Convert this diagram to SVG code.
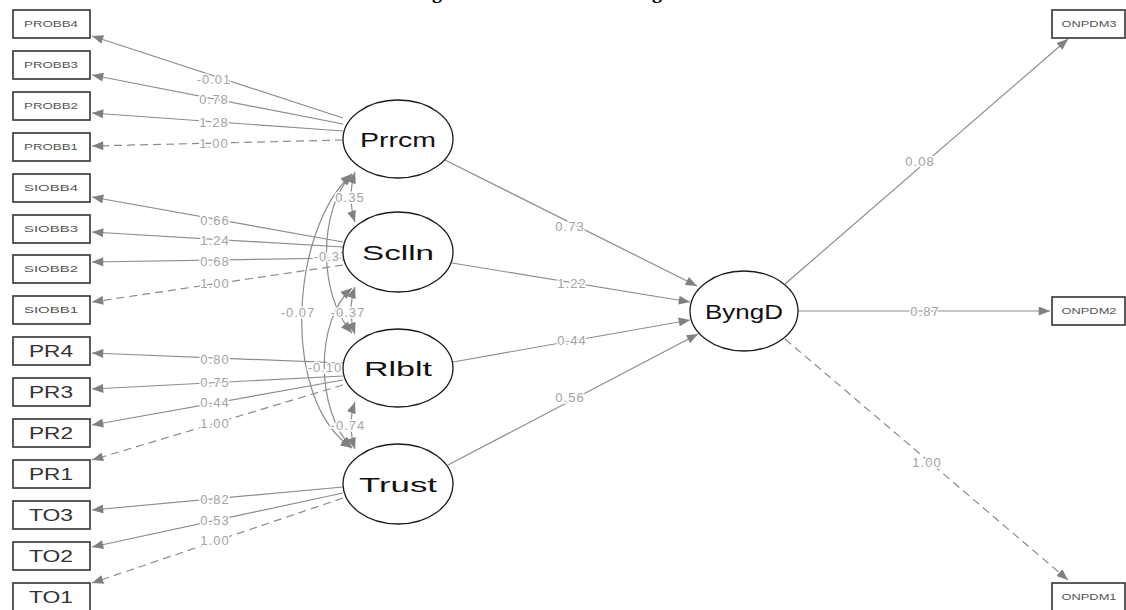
<svg xmlns="http://www.w3.org/2000/svg" width="1126" height="610" viewBox="0 0 1126 610">
<style>
.box{fill:#fff;stroke:#333;stroke-width:1.6}
.lat{fill:#fff;stroke:#1a1a1a;stroke-width:1.3}
.sl{font-family:"Liberation Sans",Arial,sans-serif;font-size:9px;fill:#555;text-anchor:middle;dominant-baseline:central}
.bl{font-family:"Liberation Sans",Arial,sans-serif;font-size:16px;fill:#333;text-anchor:middle;dominant-baseline:central}
.ll{font-family:"Liberation Sans",Arial,sans-serif;font-size:21px;fill:#111;text-anchor:middle;dominant-baseline:central}
.e{stroke:#8c8c8c;stroke-width:1.2;fill:none;marker-end:url(#ah)}
.d{stroke-dasharray:8,5}
.c{stroke:#8c8c8c;stroke-width:1.2;fill:none;marker-start:url(#ah);marker-end:url(#ah)}
.el{font-family:"Liberation Sans",Arial,sans-serif;font-size:13px;fill:#a3a3a3;text-anchor:middle;dominant-baseline:central;letter-spacing:1px;stroke:#fff;stroke-width:3px;paint-order:stroke}
.t{font-family:"Liberation Serif","Times New Roman",serif;font-size:20px;font-weight:bold;fill:#000}
</style>
<defs>
<marker id="ah" viewBox="0 0 10 8" refX="10" refY="4" markerWidth="12" markerHeight="9" markerUnits="userSpaceOnUse" orient="auto-start-reverse">
<path d="M0,0 L10,4 L0,8 z" fill="#808080"/>
</marker>
</defs>
<rect width="1126" height="610" fill="#fff"/>
<text class="t" x="432" y="-2">g</text>
<text class="t" x="652" y="-2">g</text>

<g id="connectors">
<line class="e" x1="343" y1="118" x2="92" y2="36"/>
<line class="e" x1="343" y1="124" x2="92" y2="75"/>
<line class="e" x1="343" y1="131" x2="92" y2="113"/>
<line class="e d" x1="343" y1="140" x2="92" y2="146"/>
<line class="e" x1="343" y1="242" x2="92" y2="197"/>
<line class="e" x1="343" y1="247" x2="92" y2="232"/>
<line class="e" x1="343" y1="258" x2="92" y2="262"/>
<line class="e d" x1="343" y1="265" x2="92" y2="302"/>
<line class="e" x1="343" y1="363" x2="92" y2="353"/>
<line class="e" x1="343" y1="376" x2="92" y2="389"/>
<line class="e" x1="343" y1="380" x2="92" y2="425"/>
<line class="e d" x1="343" y1="385" x2="92" y2="460"/>
<line class="e" x1="343" y1="487" x2="92" y2="510"/>
<line class="e" x1="343" y1="493" x2="92" y2="547"/>
<line class="e d" x1="343" y1="498" x2="92" y2="583"/>
<line class="e" x1="445" y1="160" x2="697" y2="286"/>
<line class="e" x1="452" y1="263" x2="690" y2="302"/>
<line class="e" x1="453" y1="362" x2="690" y2="320"/>
<line class="e" x1="448" y1="465" x2="698" y2="334"/>
<line class="e" x1="785" y1="284" x2="1068" y2="39"/>
<line class="e" x1="798" y1="311" x2="1050" y2="311"/>
<line class="e d" x1="785" y1="339" x2="1068" y2="580"/>
<path class="c" d="M355,172 Q347,197 355,222"/>
<path class="c" d="M355,287 Q347,311 355,334"/>
<path class="c" d="M355,402 Q347,425 355,449"/>
<path class="c" d="M352,174 C318,210 318,295 352,333"/>
<path class="c" d="M352,174 C290,230 280,400 352,448"/>
<path class="c" d="M352,288 C315,320 315,410 352,448"/>
<text class="el" x="214" y="79">-0.01</text>
<text class="el" x="214" y="99">0.78</text>
<text class="el" x="214" y="122">1.28</text>
<text class="el" x="214" y="143">1.00</text>
<text class="el" x="215" y="220">0.66</text>
<text class="el" x="215" y="240">1.24</text>
<text class="el" x="215" y="261">0.68</text>
<text class="el" x="215" y="283">1.00</text>
<text class="el" x="215" y="359">0.80</text>
<text class="el" x="215" y="382">0.75</text>
<text class="el" x="215" y="402">0.44</text>
<text class="el" x="215" y="423">1.00</text>
<text class="el" x="215" y="499">0.82</text>
<text class="el" x="215" y="520">0.53</text>
<text class="el" x="215" y="540">1.00</text>
<text class="el" x="350" y="197">0.35</text>
<text class="el" x="331" y="256">-0.37</text>
<text class="el" x="298" y="312">-0.07</text>
<text class="el" x="348" y="312">-0.37</text>
<text class="el" x="325" y="367">-0.10</text>
<text class="el" x="348" y="425">-0.74</text>
<text class="el" x="570" y="226">0.73</text>
<text class="el" x="572" y="283">1.22</text>
<text class="el" x="572" y="340">0.44</text>
<text class="el" x="570" y="397">0.56</text>
<text class="el" x="920" y="161">0.08</text>
<text class="el" x="925" y="311">0.87</text>
<text class="el" x="927" y="462">1.00</text>
</g>

<g id="PROBB4"><rect class="box" x="13" y="10" width="77" height="28"/><text class="sl" x="51" y="24" textLength="54" lengthAdjust="spacingAndGlyphs">PROBB4</text></g>
<g id="PROBB3"><rect class="box" x="13" y="51" width="77" height="28"/><text class="sl" x="51" y="65" textLength="54" lengthAdjust="spacingAndGlyphs">PROBB3</text></g>
<g id="PROBB2"><rect class="box" x="13" y="92" width="77" height="28"/><text class="sl" x="51" y="106" textLength="54" lengthAdjust="spacingAndGlyphs">PROBB2</text></g>
<g id="PROBB1"><rect class="box" x="13" y="133" width="77" height="28"/><text class="sl" x="51" y="147" textLength="54" lengthAdjust="spacingAndGlyphs">PROBB1</text></g>
<g id="SIOBB4"><rect class="box" x="13" y="174" width="77" height="28"/><text class="sl" x="51" y="188" textLength="54" lengthAdjust="spacingAndGlyphs">SIOBB4</text></g>
<g id="SIOBB3"><rect class="box" x="13" y="215" width="77" height="28"/><text class="sl" x="51" y="229" textLength="54" lengthAdjust="spacingAndGlyphs">SIOBB3</text></g>
<g id="SIOBB2"><rect class="box" x="13" y="255" width="77" height="28"/><text class="sl" x="51" y="269" textLength="54" lengthAdjust="spacingAndGlyphs">SIOBB2</text></g>
<g id="SIOBB1"><rect class="box" x="13" y="296" width="77" height="28"/><text class="sl" x="51" y="310" textLength="54" lengthAdjust="spacingAndGlyphs">SIOBB1</text></g>
<g id="PR4"><rect class="box" x="13" y="337" width="77" height="28"/><text class="bl" x="51" y="351" textLength="44" lengthAdjust="spacingAndGlyphs">PR4</text></g>
<g id="PR3"><rect class="box" x="13" y="378" width="77" height="28"/><text class="bl" x="51" y="392" textLength="44" lengthAdjust="spacingAndGlyphs">PR3</text></g>
<g id="PR2"><rect class="box" x="13" y="419" width="77" height="28"/><text class="bl" x="51" y="433" textLength="44" lengthAdjust="spacingAndGlyphs">PR2</text></g>
<g id="PR1"><rect class="box" x="13" y="460" width="77" height="28"/><text class="bl" x="51" y="474" textLength="44" lengthAdjust="spacingAndGlyphs">PR1</text></g>
<g id="TO3"><rect class="box" x="13" y="501" width="77" height="28"/><text class="bl" x="51" y="515" textLength="44" lengthAdjust="spacingAndGlyphs">TO3</text></g>
<g id="TO2"><rect class="box" x="13" y="542" width="77" height="28"/><text class="bl" x="51" y="556" textLength="44" lengthAdjust="spacingAndGlyphs">TO2</text></g>
<g id="TO1"><rect class="box" x="13" y="583" width="77" height="28"/><text class="bl" x="51" y="597" textLength="44" lengthAdjust="spacingAndGlyphs">TO1</text></g>

<g id="ONPDM3"><rect class="box" x="1052" y="10" width="73" height="28"/><text class="sl" x="1089" y="24" textLength="55" lengthAdjust="spacingAndGlyphs">ONPDM3</text></g>
<g id="ONPDM2"><rect class="box" x="1052" y="297" width="73" height="28"/><text class="sl" x="1089" y="311" textLength="55" lengthAdjust="spacingAndGlyphs">ONPDM2</text></g>
<g id="ONPDM1"><rect class="box" x="1052" y="583" width="73" height="28"/><text class="sl" x="1089" y="597" textLength="55" lengthAdjust="spacingAndGlyphs">ONPDM1</text></g>

<g id="Prrcm"><ellipse class="lat" cx="398" cy="139" rx="55" ry="39"/><text class="ll" x="398" y="139" textLength="76" lengthAdjust="spacingAndGlyphs">Prrcm</text></g>
<g id="Sclln"><ellipse class="lat" cx="398" cy="252" rx="55" ry="40"/><text class="ll" x="398" y="252" textLength="72" lengthAdjust="spacingAndGlyphs">Sclln</text></g>
<g id="Rlblt"><ellipse class="lat" cx="398" cy="368" rx="55" ry="39"/><text class="ll" x="398" y="368" textLength="68" lengthAdjust="spacingAndGlyphs">Rlblt</text></g>
<g id="Trust"><ellipse class="lat" cx="398" cy="484" rx="55" ry="40"/><text class="ll" x="398" y="484" textLength="78" lengthAdjust="spacingAndGlyphs">Trust</text></g>
<g id="ByngD"><ellipse class="lat" cx="744" cy="311" rx="54" ry="40"/><text class="ll" x="744" y="311" font-size="19" textLength="78" lengthAdjust="spacingAndGlyphs">ByngD</text></g>
</svg>
